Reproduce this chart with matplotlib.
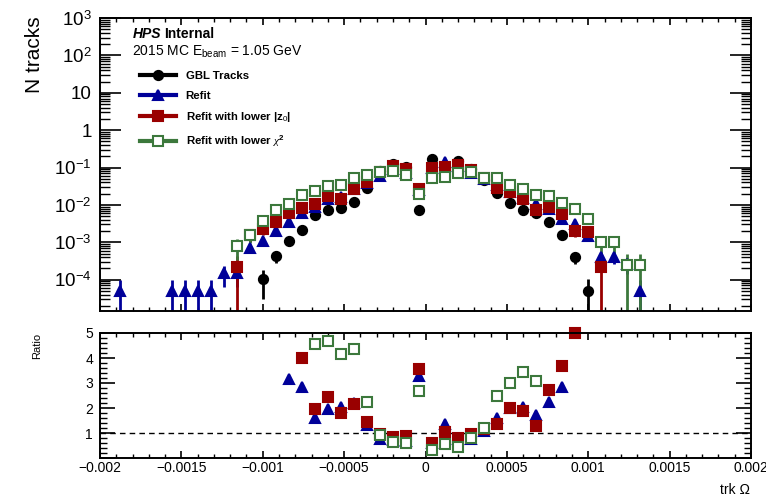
import numpy as np
import matplotlib
matplotlib.use("Agg")
import matplotlib.pyplot as plt
from matplotlib.ticker import MultipleLocator, LogLocator, FuncFormatter, NullFormatter
from matplotlib.lines import Line2D

plt.rcParams['font.family'] = ['Liberation Sans', 'DejaVu Sans']
plt.rcParams['mathtext.fontset'] = 'custom'
plt.rcParams['mathtext.rm'] = 'Liberation Sans'
plt.rcParams['mathtext.it'] = 'Liberation Serif:italic'
plt.rcParams['mathtext.bf'] = 'Liberation Sans:bold'

nan = np.nan

# 50 bins of trk Omega between -0.002 and 0.002
edges = np.linspace(-0.002, 0.002, 51)

gbl = ([0] * 12 +
       [1.05e-4, 4.2e-4, 1.07e-3, 2.1e-3, 5.3e-3, 7.1e-3, 8.1e-3, 1.2e-2, 2.9e-2,
        8.2e-2, 0.128, 0.105, 7.4e-3, 0.167, 0.105, 0.147, 9.2e-2, 4.5e-2, 2.1e-2,
        1.1e-2, 7.4e-3, 6.0e-3, 3.4e-3, 1.52e-3, 4.0e-4, 5.0e-5] +
       [0] * 12)
refit = ([0, 5e-5, 0, 0, 0, 5e-5, 5e-5, 5e-5, 5e-5, 1.5e-4, 1.5e-4, 7.1e-4,
          1.05e-3, 2.06e-3, 3.4e-3, 6.0e-3, 8.6e-3, 1.41e-2, 1.67e-2, 2.6e-2, 3.9e-2,
          6.0e-2, 9.2e-2, 7.1e-2, 2.45e-2, 0.1, 0.14, 0.11, 7.0e-2, 5.0e-2, 3.4e-2,
          2.2e-2, 1.52e-2, 1.03e-2, 7.7e-3, 4.3e-3, 3.1e-3, 1.5e-3, 4.1e-4, 4.0e-4,
          2.6e-4, 5e-5] +
         [0] * 8)
refit_z0 = ([0] * 10 +
            [2.2e-4, 1.6e-3, 2.3e-3, 3.4e-3, 5.9e-3, 8.5e-3, 1.05e-2, 1.72e-2, 1.45e-2,
             2.6e-2, 4.2e-2, 7.8e-2, 0.11, 9.1e-2, 2.65e-2, 0.1, 0.106, 0.116, 8.7e-2,
             5.4e-2, 2.9e-2, 2.15e-2, 1.4e-2, 7.4e-3, 8.9e-3, 5.7e-3, 2.06e-3, 1.85e-3,
             2.2e-4] +
            [0] * 11)
refit_chi2 = ([0] * 10 +
              [7.8e-4, 1.6e-3, 3.8e-3, 7.4e-3, 1.05e-2, 1.8e-2, 2.4e-2, 3.3e-2, 3.35e-2,
               5.2e-2, 6.5e-2, 7.8e-2, 8.3e-2, 6.2e-2, 1.99e-2, 5.4e-2, 5.6e-2, 7.1e-2,
               7.8e-2, 5.4e-2, 5.2e-2, 3.5e-2, 2.6e-2, 1.87e-2, 1.77e-2, 1.1e-2, 7.8e-3,
               4.2e-3, 1.0e-3, 1.0e-3, 2.5e-4, 2.5e-4] +
              [0] * 8)

# weight of one track in each normalised histogram
w_gbl, w_refit, w_z0, w_chi2 = 5.2e-5, 5e-5, 2.2e-4, 2.5e-4

# ratio to GBL tracks, as shown in the lower pad
ratio_refit = ([nan] * 14 +
               [3.18, 2.86, 1.62, 1.97, 2.06, 2.2, 1.33, 0.75, 0.72, 0.68, 3.3, 0.6,
                1.35, 0.75, 0.76, 1.1, 1.61, 2.0, 2.06, 1.72, 2.26, 2.84] +
               [nan] * 14)
ratio_z0 = ([nan] * 15 +
            [4.02, 1.97, 2.43, 1.79, 2.15, 1.44, 0.95, 0.85, 0.89, 3.57, 0.59, 1.03,
             0.79, 0.95, 1.15, 1.35, 2.02, 1.88, 1.28, 2.73, 3.7, 5.0] +
            [nan] * 13)
ratio_chi2 = ([nan] * 16 +
              [4.57, 4.66, 4.16, 4.37, 2.23, 0.93, 0.65, 0.59, 2.69, 0.32, 0.55, 0.45,
               0.81, 1.19, 2.49, 3.02, 3.46, 3.1] +
              [nan] * 16)

centers = 0.5 * (edges[:-1] + edges[1:])

c_black = 'black'
c_blue = '#000099'
c_red = '#990000'
c_green = '#3c783c'

fig = plt.figure(figsize=(7.66, 4.98), dpi=100)
ax = fig.add_axes([100 / 766, 1 - 311 / 498, 651 / 766, 293 / 498])
rax = fig.add_axes([100 / 766, 1 - 458 / 498, 651 / 766, 125 / 498])

series = [
    (gbl, w_gbl, c_black, 'o', 'GBL Tracks', True),
    (refit, w_refit, c_blue, '^', 'Refit', True),
    (refit_z0, w_z0, c_red, 's', 'Refit with lower |z$_{0}$|', True),
    (refit_chi2, w_chi2, c_green, 's', 'Refit with lower $\\chi^{\\mathbf{2}}$', False),
]

handles = []
for vals, w, col, mk, lab, filled in series:
    v = np.array(vals, dtype=float)
    m = v > 0
    err = np.sqrt(v[m] * w)
    lo = np.minimum(err, v[m] * (1 - 1e-6))
    ms = 7.2 if mk == '^' else 6.6
    ax.errorbar(centers[m], v[m], yerr=[lo, err], fmt=mk, color=col, ms=ms,
                mfc=col if filled else 'white', mec=col, mew=1.5,
                elinewidth=2.0, capsize=0)
    handles.append(Line2D([], [], color=col, lw=3, marker=mk, ms=ms,
                          mfc=col if filled else 'white', mec=col, mew=1.5, label=lab))

ax.set_yscale('log')
ax.set_xlim(-0.002, 0.002)
ax.set_ylim(1.45e-5, 1e3)


def log_fmt(v, pos):
    n = int(round(np.log10(v)))
    if n == 0:
        return '1'
    if n == 1:
        return '10'
    return '$10^{%d}$' % n


ax.yaxis.set_major_locator(LogLocator(base=10, numticks=20))
ax.yaxis.set_minor_locator(LogLocator(base=10, subs=np.arange(2, 10), numticks=20))
ax.yaxis.set_major_formatter(FuncFormatter(log_fmt))
ax.yaxis.set_minor_formatter(NullFormatter())
ax.xaxis.set_major_locator(MultipleLocator(0.0005))
ax.xaxis.set_minor_locator(MultipleLocator(0.0001))
ax.tick_params(axis='both', which='both', direction='in', top=True, right=True)
ax.tick_params(axis='y', which='major', length=15, width=1.2, labelsize=13.5, pad=6)
ax.tick_params(axis='y', which='minor', length=7.5, width=1.0)
ax.tick_params(axis='x', which='major', length=5, width=1.2, labelbottom=False)
ax.tick_params(axis='x', which='minor', length=3, width=1.0)

fig.text(35 / 766, 1 - 55 / 498, 'N tracks', rotation=90, ha='center', va='center', fontsize=15)
fig.text(133 / 766, 1 - 34 / 498, 'HPS', fontsize=10, va='center',
         fontweight='bold', fontstyle='italic')
fig.text(164 / 766, 1 - 34 / 498, 'Internal', fontsize=10, va='center', fontweight='bold')
fig.text(132 / 766, 1 - 52 / 498, '2015 MC E$_{\\mathrm{beam}}$ = 1.05 GeV', fontsize=10,
         va='center')

ax.legend(handles=handles, loc='upper left', bbox_to_anchor=(140 / 766, 1 - 71 / 498),
          bbox_transform=fig.transFigure, frameon=False, borderpad=0, borderaxespad=0,
          handlelength=3.2, handletextpad=0.8, labelspacing=0.85,
          prop={'weight': 'bold', 'size': 8.2})

# ratio pad
rax.axhline(1.0, color='black', ls=(0, (4, 3)), lw=1.0)
for r, col, mk, filled in [(ratio_refit, c_blue, '^', True),
                           (ratio_z0, c_red, 's', True),
                           (ratio_chi2, c_green, 's', False)]:
    rax.plot(centers, r, ls='none', marker=mk, color=col, ms=7.2 if mk == '^' else 6.6,
             mfc=col if filled else 'white', mec=col, mew=1.5, clip_on=False)

rax.set_xlim(-0.002, 0.002)
rax.set_ylim(0, 5)
rax.yaxis.set_major_locator(MultipleLocator(1))
rax.yaxis.set_minor_locator(MultipleLocator(0.2))
rax.yaxis.set_major_formatter(FuncFormatter(lambda v, p: '' if v < 0.5 else '%d' % round(v)))
rax.xaxis.set_major_locator(MultipleLocator(0.0005))
rax.xaxis.set_minor_locator(MultipleLocator(0.0001))


def x_fmt(v, pos):
    if abs(v) < 1e-9:
        return '0'
    return ('%g' % round(v, 6)).replace('-', '\u2212')


rax.xaxis.set_major_formatter(FuncFormatter(x_fmt))
rax.tick_params(axis='both', which='both', direction='in', top=True, right=True)
rax.tick_params(axis='y', which='major', length=11, width=1.2, labelsize=10, pad=5)
rax.tick_params(axis='y', which='minor', length=5, width=1.0)
rax.tick_params(axis='x', which='major', length=5, width=1.2, labelsize=10, pad=2)
rax.tick_params(axis='x', which='minor', length=3, width=1.0)

fig.text(37 / 766, 1 - 346 / 498, 'Ratio', rotation=90, ha='center', va='center', fontsize=8)
fig.text(750 / 766, 1 - 490 / 498, 'trk \u03a9', ha='right', va='center', fontsize=10)

for a in (ax, rax):
    for s in a.spines.values():
        s.set_linewidth(1.4)

fig.savefig('out.png', dpi=100)
